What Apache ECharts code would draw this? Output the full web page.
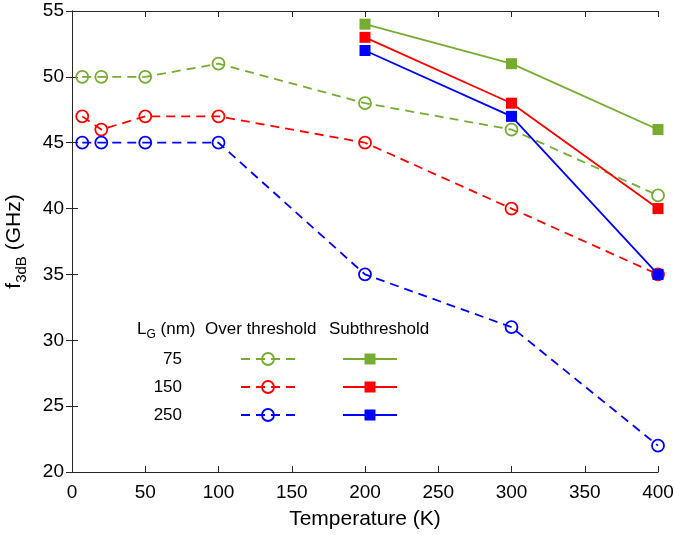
<!DOCTYPE html>
<html><head><meta charset="utf-8">
<script src="https://cdn.jsdelivr.net/npm/echarts@6/dist/echarts.min.js"></script>
<style>html,body{margin:0;padding:0;background:#fff}#c{width:674px;height:535px}</style>
</head><body><div id="c"></div>
<script>
// Data
const overTemps = [7, 20, 50, 100, 200, 300, 400];
const over75  = [50, 50, 50, 51, 48, 46, 41];
const over150 = [47, 46, 47, 47, 45, 40, 35];
const over250 = [45, 45, 45, 45, 35, 31, 22];
const subTemps = [200, 300, 400];
const sub75  = [54, 51, 46];
const sub150 = [53, 48, 40];
const sub250 = [52, 47, 35];
const legendRows = ['75', '150', '250'];

const GREEN = '#77AC30', RED = '#FF0000', BLUE = '#0000FF';
const colors = [GREEN, RED, BLUE];
const FONT = 'Liberation Sans, Arial, Helvetica, sans-serif';
const AX = '#262626';
const LW = 1.8;

function pairs(xs, ys){ return xs.map((x,i)=>[x, ys[i]]); }
function overSeries(name, ys, c){
  return {name, type:'line', data: pairs(overTemps, ys), symbol:'circle', symbolSize:12,
    lineStyle:{color:c, width:LW, type:[9,6]}, itemStyle:{color:'rgba(255,255,255,0)', borderColor:c, borderWidth:LW},
    z:2, animation:false};
}
function subSeries(name, ys, c){
  return {name, type:'line', data: pairs(subTemps, ys), symbol:'rect', symbolSize:11,
    lineStyle:{color:c, width:LW, type:'solid'}, itemStyle:{color:c, borderWidth:0},
    z:3, animation:false};
}

const grid = {left:72, right:16, top:11, bottom:63, containLabel:false, outerBoundsMode:'none'};
const axisCommon = {
  axisLine:{show:true, lineStyle:{color:AX, width:1}},
  axisTick:{show:true, inside:true, length:6, lineStyle:{color:AX, width:1}},
  splitLine:{show:false}
};

// Legend graphics
const graphics = [];
const LF = 17;
const hdrY = 329;
graphics.push({type:'text', x:137, y:hdrY, style:{
  text:'{a|L}{s|G}{a| (nm)}', textVerticalAlign:'middle', rich:{
    a:{fontSize:LF, fontFamily:FONT, fill:'#000'},
    s:{fontSize:12, fontFamily:FONT, fill:'#000', padding:[12,0,0,0]}
  }}});
graphics.push({type:'text', x:205, y:hdrY, style:{text:'Over threshold', fontSize:LF, fontFamily:FONT, fill:'#000', textVerticalAlign:'middle'}});
graphics.push({type:'text', x:329, y:hdrY, style:{text:'Subthreshold', fontSize:LF, fontFamily:FONT, fill:'#000', textVerticalAlign:'middle'}});
const rowY = [359, 387, 415];
legendRows.forEach((t,i)=>{
  const y = rowY[i], c = colors[i];
  graphics.push({type:'text', x:182, y:y, style:{text:t, fontSize:LF, fontFamily:FONT, fill:'#000', textAlign:'right', textVerticalAlign:'middle'}});
  graphics.push({type:'line', shape:{x1:241, y1:y, x2:295, y2:y}, style:{stroke:c, lineWidth:LW, lineDash:[9,6]}});
  graphics.push({type:'circle', shape:{cx:268, cy:y, r:6}, style:{stroke:c, fill:null, lineWidth:LW}});
  graphics.push({type:'line', shape:{x1:343, y1:y, x2:397, y2:y}, style:{stroke:c, lineWidth:LW}});
  graphics.push({type:'rect', shape:{x:364.5, y:y-5.5, width:11, height:11}, style:{fill:c}});
});

const chart = echarts.init(document.getElementById('c'), null, {renderer:'canvas'});
chart.setOption({
  backgroundColor:'#fff',
  animation:false,
  grid,
  xAxis:[
    Object.assign({type:'value', min:0, max:400, interval:50, position:'bottom',
      name:'Temperature (K)', nameLocation:'middle', nameGap:37,
      nameTextStyle:{fontSize:21, fontFamily:FONT, color:'#000'},
      axisLabel:{fontSize:19, fontFamily:FONT, color:'#000', margin:11}}, axisCommon),
    Object.assign({type:'value', min:0, max:400, interval:50, position:'top',
      axisLabel:{show:false}}, axisCommon)
  ],
  yAxis:[
    Object.assign({type:'value', min:20, max:55, interval:5, position:'left',
      name:'{a|f}{s|3dB}{a| (GHz)}', nameLocation:'middle', nameGap:43,
      nameTextStyle:{rich:{a:{fontSize:21, fontFamily:FONT, color:'#000'}, s:{fontSize:15, fontFamily:FONT, color:'#000', padding:[14,0,0,0]}}},
      axisLabel:{fontSize:19, fontFamily:FONT, color:'#000', margin:8}}, axisCommon),
    Object.assign({type:'value', min:20, max:55, interval:5, position:'right',
      axisLabel:{show:false}}, axisCommon)
  ],
  series:[
    overSeries('o75', over75, GREEN),
    overSeries('o150', over150, RED),
    overSeries('o250', over250, BLUE),
    subSeries('s75', sub75, GREEN),
    subSeries('s150', sub150, RED),
    subSeries('s250', sub250, BLUE)
  ],
  graphic: graphics
});
</script></body></html>
